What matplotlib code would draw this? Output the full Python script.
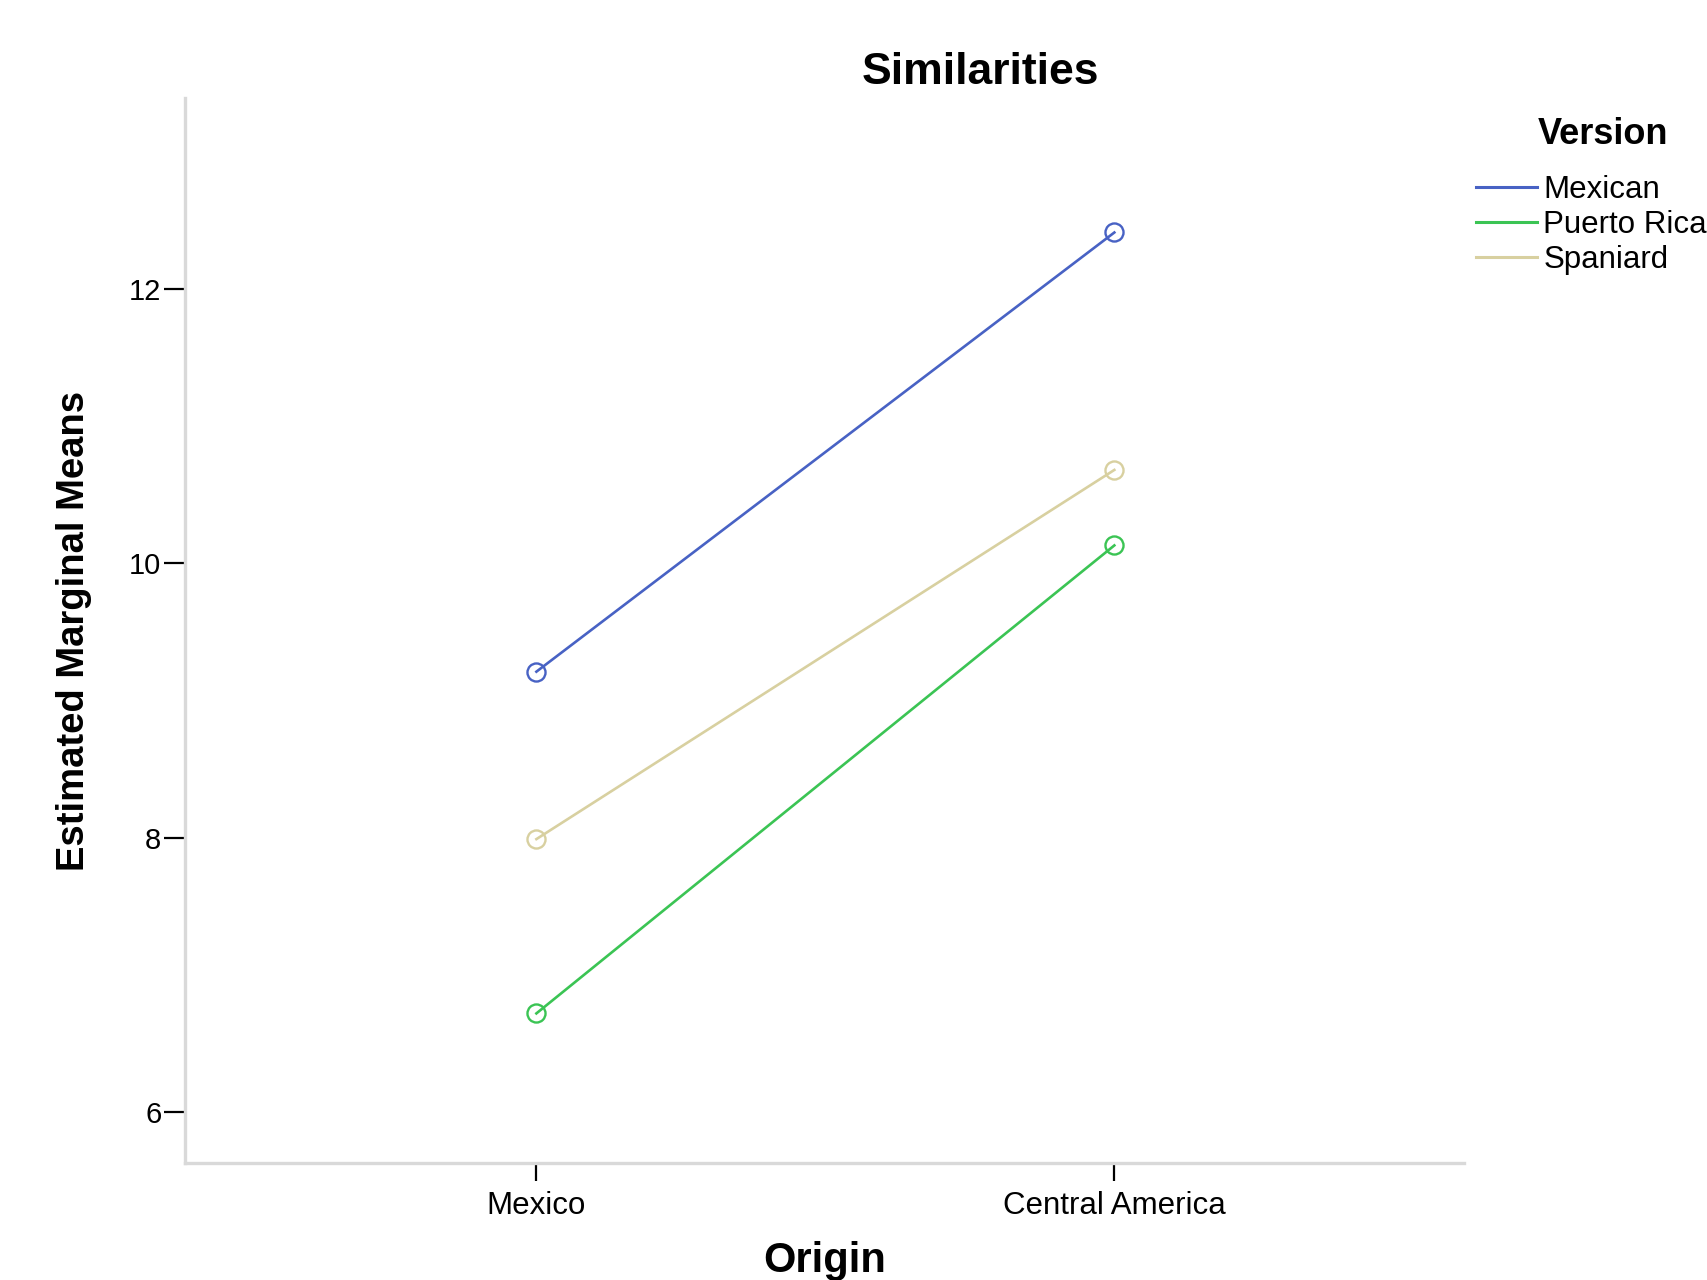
import matplotlib.pyplot as plt
import numpy as np

plt.rcParams['font.family'] = ['Liberation Sans', 'DejaVu Sans']

# estimated marginal means
origins = ["Mexico", "Central America"]
versions = ["Mexican", "Puerto Rican", "Spaniard"]
mexican = [9.21, 12.41]
puerto_rican = [6.72, 10.13]
spaniard = [7.99, 10.68]
colors = ["#4862C4", "#3BC454", "#D8D0A0"]

W, H = 1707, 1280
fig = plt.figure(figsize=(W / 100, H / 100), dpi=100)
ax = fig.add_axes([185 / W, 1 - 1163 / H, (1464 - 185) / W, (1163 - 98) / H])

x = np.arange(len(origins))
handles = []
for vals, name, c in zip([mexican, puerto_rican, spaniard], versions, colors):
    h, = ax.plot(x, vals, color=c, lw=1.9, marker='o', ms=13, mfc='none',
                 mec=c, mew=1.7, label=name)
    handles.append(h)

ax.set_xlim(-0.608, 1.605)
ax.set_ylim(5.63, 13.39)
ax.set_xticks(x)
ax.set_xticklabels(origins)
ax.set_yticks([6, 8, 10, 12])

for s in ['top', 'right']:
    ax.spines[s].set_visible(False)
for s in ['left', 'bottom']:
    ax.spines[s].set_color('#d9d9d9')
    ax.spines[s].set_linewidth(2.4)

ax.tick_params(axis='y', direction='out', length=15, width=1.6, color='black',
               labelsize=21, pad=2)
ax.tick_params(axis='x', direction='out', length=13, width=1.6, color='black',
               labelsize=22.5, pad=7)

fig.text(980 / W, 1 - 72 / H, "Similarities", fontsize=32, fontweight='bold',
         ha='center', va='center')
fig.text(825 / W, 1 - 1261 / H, "Origin", fontsize=30, fontweight='bold',
         ha='center', va='center')
fig.text(74 / W, 1 - 631 / H, "Estimated Marginal Means", fontsize=27.5,
         fontweight='bold', rotation=90, ha='center', va='center')

# legend (the last label runs off the right edge, as in the original)
fig.text(1603 / W, 1 - 135 / H, "Version", fontsize=26, fontweight='bold',
         ha='center', va='center')
leg = fig.legend(handles=handles, labels=versions, loc='upper left',
                 bbox_to_anchor=(1476 / W, 1 - 175 / H), frameon=False,
                 fontsize=22.5, handlelength=1.95, handletextpad=0.2,
                 labelspacing=0.16, borderpad=0, borderaxespad=0)
for l in leg.get_lines():
    l.set_marker('')
    l.set_linewidth(2.2)

fig.savefig("out.png", dpi=100)
